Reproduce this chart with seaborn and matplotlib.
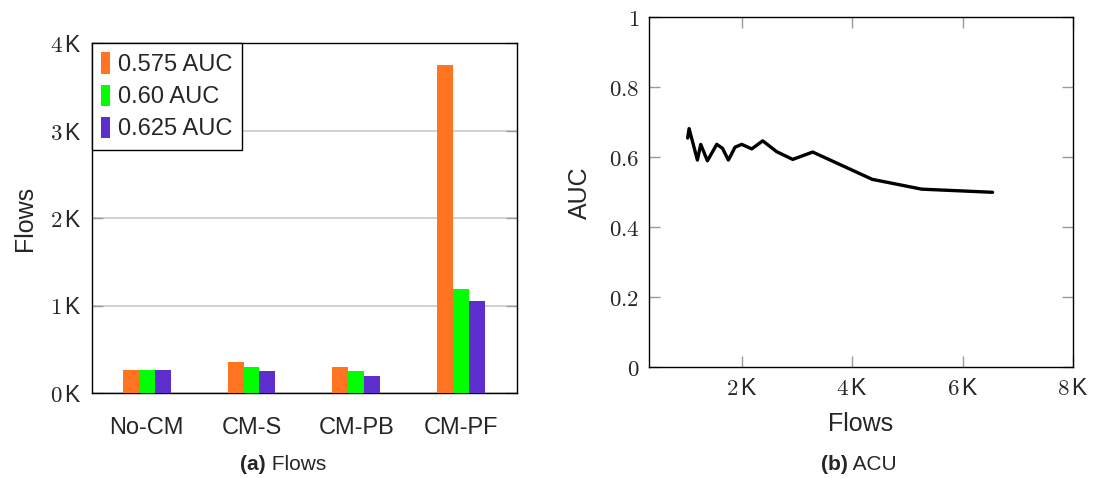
import matplotlib
matplotlib.use("Agg")
import matplotlib.pyplot as plt
from matplotlib.patches import Patch
import seaborn as sns
import pandas as pd

# ---- data -------------------------------------------------------------
categories = ["No-CM", "CM-S", "CM-PB", "CM-PF"]
series_names = ["0.575 AUC", "0.60 AUC", "0.625 AUC"]
flows_0575 = [265, 350, 300, 3750]
flows_060 = [265, 300, 250, 1190]
flows_0625 = [265, 250, 200, 1050]
bar_colors = ["#FF7420", "#00FF00", "#5F2ECF"]

flow_ticks = [0, 1000, 2000, 3000, 4000]
flow_tick_labels = ["0", "1", "2", "3", "4"]

curve_flows = [1020, 1046, 1197, 1257, 1378, 1547, 1650, 1758, 1879, 2000,
               2181, 2380, 2633, 2923, 3285, 4364, 5258, 6543]
curve_auc = [0.655, 0.682, 0.592, 0.637, 0.590, 0.637, 0.626, 0.592, 0.629,
             0.637, 0.624, 0.647, 0.616, 0.594, 0.615, 0.537, 0.509, 0.500]
auc_ticks = [0, 0.2, 0.4, 0.6, 0.8, 1.0]
auc_tick_labels = ["0", "0.2", "0.4", "0.6", "0.8", "1"]
curve_x_ticks = [2000, 4000, 6000, 8000]
curve_x_labels = ["2", "4", "6", "8"]

# ---- style ------------------------------------------------------------
sns.set_theme(style="white")
plt.rcParams["font.family"] = ["Liberation Sans", "DejaVu Sans"]
plt.rcParams["mathtext.fontset"] = "cm"

W, H = 1093, 478
fig = plt.figure(figsize=(W / 100, H / 100), dpi=100)


def box(x0, y0, x1, y1):
    return [x0 / W, 1 - y1 / H, (x1 - x0) / W, (y1 - y0) / H]


TICK_FS = 16.5
LABEL_FS = 18
TICK_COLOR = "#9a9a9a"


def k_label(d):
    return r"$%s\,$K" % d


def frame(ax):
    for s in ax.spines.values():
        s.set_color("black")
        s.set_linewidth(1.0)


# ---- (a) grouped bars -------------------------------------------------
ax1 = fig.add_axes(box(92, 43, 517, 393))
df = pd.DataFrame({
    "category": categories * 3,
    "series": sum([[n] * len(categories) for n in series_names], []),
    "flows": flows_0575 + flows_060 + flows_0625,
})
sns.barplot(data=df, x="category", y="flows", hue="series",
            hue_order=series_names, palette=bar_colors, width=0.457,
            linewidth=0, saturation=1, ax=ax1, legend=False, zorder=3)
ax1.set_xlim(-0.52, 3.53)
ax1.set_ylim(0, 4000)
ax1.set_yticks(flow_ticks)
ax1.set_yticklabels([k_label(t) for t in flow_tick_labels], fontsize=TICK_FS)
ax1.yaxis.grid(True, color="#cfcfcf", linewidth=1.3, zorder=0)
ax1.set_axisbelow(True)
ax1.tick_params(axis="y", direction="in", length=8, width=1,
                color=TICK_COLOR, left=True, right=True, pad=7)
ax1.tick_params(axis="x", length=0, pad=17, labelsize=17)
ax1.set_xlabel("")
ax1.set_ylabel("Flows", fontsize=LABEL_FS)
ax1.yaxis.set_label_coords(-0.13, 0.5)
frame(ax1)

handles = [Patch(facecolor=c, edgecolor="none") for c in bar_colors]
leg = ax1.legend(handles, series_names, loc="upper left",
                 bbox_to_anchor=(0, 1), borderaxespad=0, fontsize=17,
                 handlelength=0.35, handleheight=1.0, handletextpad=0.35,
                 labelspacing=0.36, borderpad=0.4, fancybox=False,
                 framealpha=1, edgecolor="black")
leg.get_frame().set_linewidth(1.0)
leg.set_zorder(5)

# ---- (b) AUC curve ----------------------------------------------------
ax2 = fig.add_axes(box(649, 17.3, 1073, 367.3))
curve = pd.DataFrame({"flows": curve_flows, "auc": curve_auc})
sns.lineplot(data=curve, x="flows", y="auc", color="black", linewidth=2.4,
             sort=False, estimator=None, ax=ax2)
ax2.set_xlim(320, 8000)
ax2.set_ylim(0, 1)
ax2.set_xticks(curve_x_ticks)
ax2.set_xticklabels([k_label(t) for t in curve_x_labels], fontsize=TICK_FS)
ax2.set_yticks(auc_ticks)
ax2.set_yticklabels(["$%s$" % t for t in auc_tick_labels], fontsize=TICK_FS)
ax2.tick_params(axis="both", direction="in", length=8, width=1,
                color=TICK_COLOR, left=True, right=True, bottom=True,
                top=True, pad=7)
ax2.set_xlabel("Flows", fontsize=LABEL_FS)
ax2.set_ylabel("AUC", fontsize=LABEL_FS)
ax2.xaxis.set_label_coords(0.5, -0.128)
ax2.yaxis.set_label_coords(-0.134, 0.5)
frame(ax2)


# ---- sub-captions -----------------------------------------------------
def caption(x_right, y, tag, text):
    t = fig.text(x_right / W, 1 - y / H, tag, fontsize=15, fontweight="bold",
                 ha="right", va="center")
    fig.text(x_right / W, 1 - y / H, " " + text, fontsize=15,
             ha="left", va="center")
    return t


caption(266, 464, "(a)", "Flows")
caption(848, 464, "(b)", "ACU")

fig.savefig("out.png", dpi=100)
